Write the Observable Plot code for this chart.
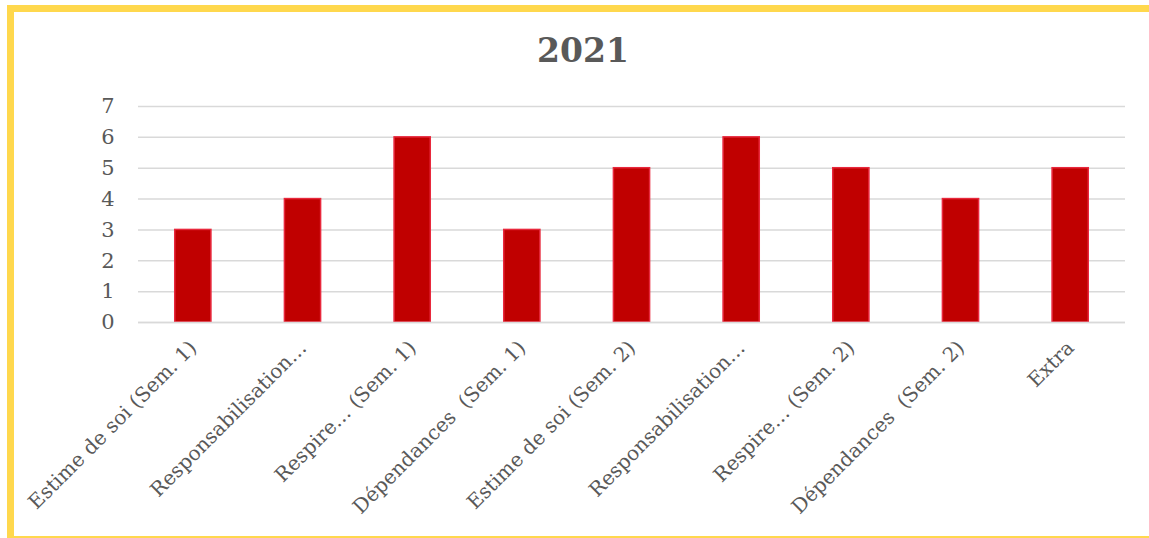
<!DOCTYPE html>
<html>
<head>
<meta charset="utf-8">
<script src="https://cdn.jsdelivr.net/npm/d3@7"></script>
<script src="https://cdn.jsdelivr.net/npm/@observablehq/plot@0.6"></script>
<style>
  html, body { margin: 0; padding: 0; background: #fff; }
  body { width: 1149px; height: 538px; position: relative; overflow: hidden; }
  #frame { position: absolute; left: 7px; top: 5px; width: 1160px; height: 538px; border: 7px solid #FFD84D; box-sizing: border-box; }
  #title { position: absolute; left: 0; top: 32px; width: 1166px; text-align: center; font-family: "DejaVu Serif", serif; font-weight: bold; font-size: 33px; line-height: 38px; color: #595959; }
  #chart { position: absolute; left: 0; top: 0; }
</style>
</head>
<body>
<div id="frame"></div>
<div id="title">2021</div>
<div id="chart"></div>
<script>
const categories = [
  "Estime de soi (Sem. 1)",
  "Responsabilisation…",
  "Respire… (Sem. 1)",
  "Dépendances  (Sem. 1)",
  "Estime de soi (Sem. 2)",
  "Responsabilisation…",
  "Respire… (Sem. 2)",
  "Dépendances  (Sem. 2)",
  "Extra"
];
const values = [3, 4, 6, 3, 5, 6, 5, 4, 5];
const yTicks = [0, 1, 2, 3, 4, 5, 6, 7];

// use index keys so that duplicate labels stay distinct bars
const keys = categories.map((c, i) => i);
const data = keys.map(i => ({key: i, label: categories[i], value: values[i]}));

const chart = Plot.plot({
  width: 1149,
  height: 538,
  marginTop: 106,
  marginBottom: 216,
  marginLeft: 138,
  marginRight: 24,
  style: {fontFamily: "'DejaVu Serif', serif", fontSize: "20px", color: "#595959", background: "transparent"},
  x: {domain: keys, paddingInner: 0.67, paddingOuter: 0.335, round: false, label: null},
  y: {domain: [0, 7], label: null},
  marks: [
    Plot.gridY(yTicks, {stroke: "#D9D9D9", strokeOpacity: 1, strokeWidth: 1.5}),
    Plot.barY(data, {x: "key", y: "value", fill: "#C00000", stroke: "#E8283C", strokeWidth: 1.5}),
    Plot.ruleY([0], {stroke: "#D9D9D9", strokeWidth: 1.5}),
    Plot.axisY({ticks: yTicks, tickSize: 0, tickPadding: 24, fontSize: 21, fill: "#595959", label: null,
      tickFormat: d => String(d)}),
    Plot.axisX({tickSize: 0, tickRotate: -45, tickPadding: 22, fontSize: 20, fill: "#595959", label: null,
      tickFormat: i => categories[i]})
  ]
});
document.getElementById("chart").appendChild(chart);
</script>
</body>
</html>
